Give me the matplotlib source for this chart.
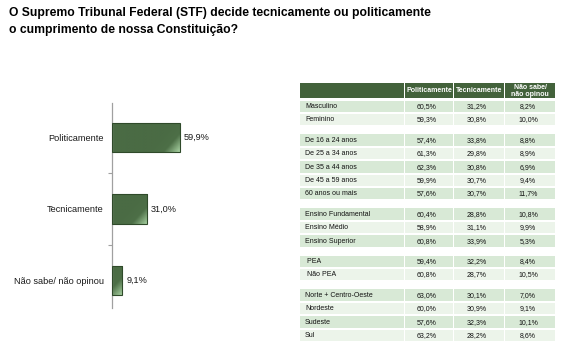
import numpy as np
import matplotlib
matplotlib.use("Agg")
import matplotlib.pyplot as plt
from matplotlib.colors import LinearSegmentedColormap
from matplotlib.patches import Rectangle

plt.rcParams['font.family'] = ['Liberation Sans', 'DejaVu Sans']

# --- data ---
title = ("O Supremo Tribunal Federal (STF) decide tecnicamente ou politicamente\n"
         "o cumprimento de nossa Constituição?")
cats = ['Politicamente', 'Tecnicamente', 'Não sabe/ não opinou']
vals = [59.9, 31.0, 9.1]

col_headers = ['Politicamente', 'Tecnicamente', 'Não sabe/\nnão opinou']
row_labels = ['Masculino', 'Feminino',
              'De 16 a 24 anos', 'De 25 a 34 anos', 'De 35 a 44 anos',
              'De 45 a 59 anos', '60 anos ou mais',
              'Ensino Fundamental', 'Ensino Médio', 'Ensino Superior',
              ' PEA', ' Não PEA',
              'Norte + Centro-Oeste', 'Nordeste', 'Sudeste', 'Sul']
row_group = [0, 0, 1, 1, 1, 1, 1, 2, 2, 2, 3, 3, 4, 4, 4, 4]
pol = [60.5, 59.3, 57.4, 61.3, 62.3, 59.9, 57.6, 60.4, 58.9, 60.8, 59.4, 60.8, 63.0, 60.0, 57.6, 63.2]
tec = [31.2, 30.8, 33.8, 29.8, 30.8, 30.7, 30.7, 28.8, 31.1, 33.9, 32.2, 28.7, 30.1, 30.9, 32.3, 28.2]
ns = [8.2, 10.0, 8.8, 8.9, 6.9, 9.4, 11.7, 10.8, 9.9, 5.3, 8.4, 10.5, 7.0, 9.1, 10.1, 8.6]


def pct(v):
    return f"{v:.1f}%".replace('.', ',')


W, H = 566, 351
fig = plt.figure(figsize=(W / 100, H / 100), dpi=100)

# full-figure axes in pixel coords for title and table
bg = fig.add_axes([0, 0, 1, 1], zorder=0)
bg.set_xlim(0, W)
bg.set_ylim(H, 0)
bg.axis('off')

bg.text(9, 16, title.split('\n')[0], fontsize=8.7, fontweight='bold', va='baseline')
bg.text(9, 33, title.split('\n')[1], fontsize=8.7, fontweight='bold', va='baseline')

# --- table ---
head_c = '#43623b'
dark_c = '#d8e9d6'
light_c = '#ecf4ea'
cols = [(300, 404), (405, 453), (454, 504), (505, 555)]
hy0, hy1 = 83, 98
for j, (a, b) in enumerate(cols):
    bg.add_patch(Rectangle((a, hy0), b - a, hy1 - hy0, color=head_c, lw=0))
    if j > 0:
        bg.text((a + b) / 2, (hy0 + hy1) / 2 + 0.5, col_headers[j - 1], color='white',
                fontsize=5, fontweight='bold', ha='center', va='center', linespacing=0.95)

pitch, rh, gap, top = 13.4, 11.5, 7, 100.5
prev_g, k = -1, 0
for i, lab in enumerate(row_labels):
    g = row_group[i]
    k = 0 if g != prev_g else k + 1
    prev_g = g
    y = top + i * pitch + g * gap
    fc = dark_c if k % 2 == 0 else light_c
    for (a, b) in cols:
        bg.add_patch(Rectangle((a, y), b - a, rh, color=fc, lw=0))
    yc = y + rh / 2 + 0.3
    bg.text(305, yc, lab, fontsize=5, va='center', ha='left', color='#111111')
    for (a, b), v in zip(cols[1:], [pol[i], tec[i], ns[i]]):
        bg.text((a + b) / 2 - 2, yc, pct(v), fontsize=5, va='center', ha='center', color='#111111')

# --- bar chart ---
ax = fig.add_axes([112 / W, (H - 308) / H, 113 / W, 205 / H], zorder=1)
ax.patch.set_alpha(0)
ypos = np.arange(len(cats))
bars = ax.barh(ypos, vals, height=0.41, facecolor='none', edgecolor='#2f4a2a', lw=0.8, zorder=3)

cmap = LinearSegmentedColormap.from_list('g', ['#4a6b44', '#4d6f47', '#a9d3a3'])
pxu = 113 / 100
for p in bars:
    x0, y0 = p.get_xy()
    w, h = p.get_width(), p.get_height()
    wpx, hpx = w * pxu, 29
    u = np.linspace(0, wpx, 120)
    v = np.linspace(0, hpx, 40)
    U, V = np.meshgrid(u, v)
    d = (wpx - U) + (hpx - V) * 0.9
    t = np.clip(1 - d / 32, 0, 1)
    im = ax.imshow(t, extent=(x0, x0 + w, y0 + h, y0), origin='upper', cmap=cmap,
                   vmin=0, vmax=1, aspect='auto', zorder=2, interpolation='bilinear')
    im.set_clip_path(p)

for i, v in enumerate(vals):
    ax.text(v + 3.6, i, pct(v), va='center', ha='left', fontsize=6.6, color='#1a1a1a')

ax.set_xlim(0, 100)
ax.set_ylim(2.385, -0.48)
ax.set_yticks(ypos, cats, fontsize=6.6, color='#1a1a1a')
ax.tick_params(axis='y', which='major', length=0, pad=6)
ax.set_yticks([0.5, 1.5], minor=True)
ax.tick_params(axis='y', which='minor', length=3, width=0.8, color='#a0a0a0', direction='out')
ax.xaxis.set_visible(False)
for s in ['top', 'right', 'bottom']:
    ax.spines[s].set_visible(False)
ax.spines['left'].set_color('#a0a0a0')
ax.spines['left'].set_linewidth(0.9)

fig.savefig('out.png', dpi=100)
